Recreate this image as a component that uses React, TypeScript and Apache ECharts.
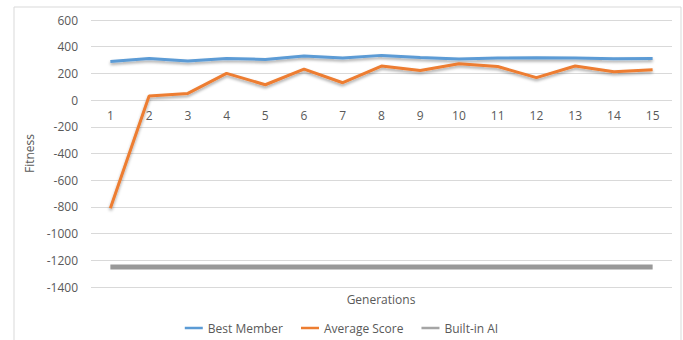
import React, { useEffect, useRef } from "react";
import * as echarts from "echarts";

const generations = ["1", "2", "3", "4", "5", "6", "7", "8", "9", "10", "11", "12", "13", "14", "15"];
const bestMember = [290, 312, 292, 312, 305, 330, 315, 335, 320, 307, 315, 317, 315, 310, 312];
const averageScore = [-810, 30, 50, 200, 115, 232, 130, 255, 222, 272, 252, 168, 255, 212, 228];
const builtInAI = [-1250, -1250, -1250, -1250, -1250, -1250, -1250, -1250, -1250, -1250, -1250, -1250, -1250, -1250, -1250];

const FONT = "Open Sans";
const TEXT = "#595959";
const Y_MIN = -1400;
const Y_MAX = 600;
const GRID_TOP = 20;
const GRID_BOTTOM = 53;
const HEIGHT = 340;

export default function App() {
  const ref = useRef<HTMLDivElement>(null);
  useEffect(() => {
    if (!ref.current) return;
    const chart = echarts.init(ref.current, undefined, { renderer: "svg" });
    const shadow = { shadowBlur: 3, shadowColor: "rgba(0,0,0,0.35)", shadowOffsetY: 2 };
    const gridH = HEIGHT - GRID_TOP - GRID_BOTTOM;
    // move the category axis up so that it sits on the value 0
    const zeroOffset = -(gridH * (0 - Y_MIN)) / (Y_MAX - Y_MIN);
    chart.setOption({
      animation: false,
      backgroundColor: "#fff",
      textStyle: { fontFamily: FONT, color: TEXT },
      grid: { left: 91, right: 11, top: GRID_TOP, bottom: GRID_BOTTOM, containLabel: false },
      graphic: [
        {
          type: "rect",
          shape: { x: 14, y: 7, width: 667, height: 340 },
          style: { fill: "none", stroke: "#d9d9d9", lineWidth: 1 },
          silent: true,
        },
        {
          type: "text",
          x: 381,
          y: 299,
          style: {
            text: "Generations",
            fill: TEXT,
            font: `12px "${FONT}"`,
            textAlign: "center",
            textVerticalAlign: "middle",
          },
        },
      ],
      legend: {
        bottom: 1,
        left: "center",
        itemWidth: 18,
        itemHeight: 2.5,
        itemGap: 18,
        icon: "rect",
        textStyle: { fontFamily: FONT, fontSize: 12, color: TEXT },
        data: ["Best Member", "Average Score", "Built-in AI"],
      },
      xAxis: {
        type: "category",
        data: generations,
        boundaryGap: true,
        position: "bottom",
        offset: zeroOffset,
        axisLine: { show: false, onZero: false },
        axisTick: { show: false },
        axisLabel: { color: TEXT, fontFamily: FONT, fontSize: 12, margin: 9 },
        splitLine: { show: false },
      },
      yAxis: {
        type: "value",
        min: Y_MIN,
        max: Y_MAX,
        interval: 200,
        name: "Fitness",
        nameLocation: "middle",
        nameGap: 50,
        nameTextStyle: { color: TEXT, fontFamily: FONT, fontSize: 12 },
        axisLine: { show: false },
        axisTick: { show: false },
        axisLabel: {
          color: TEXT,
          fontFamily: FONT,
          fontSize: 12,
          margin: 13,
          formatter: (v: number) => String(v),
        },
        splitLine: { lineStyle: { color: "#d9d9d9", width: 1 } },
      },
      series: [
        {
          name: "Best Member",
          type: "line",
          data: bestMember,
          symbol: "none",
          color: "#5B9BD5",
          lineStyle: { width: 3, color: "#5B9BD5", ...shadow },
        },
        {
          name: "Average Score",
          type: "line",
          data: averageScore,
          symbol: "none",
          color: "#ED7D31",
          lineStyle: { width: 3, color: "#ED7D31", ...shadow },
        },
        {
          name: "Built-in AI",
          type: "line",
          data: builtInAI,
          symbol: "none",
          color: "#A5A5A5",
          lineStyle: { width: 5, color: "#999999" },
        },
      ],
    });
    return () => chart.dispose();
  }, []);
  return (
    <div
      ref={ref}
      style={{ position: "fixed", left: 0, top: 0, width: 683, height: 340 }}
    />
  );
}
